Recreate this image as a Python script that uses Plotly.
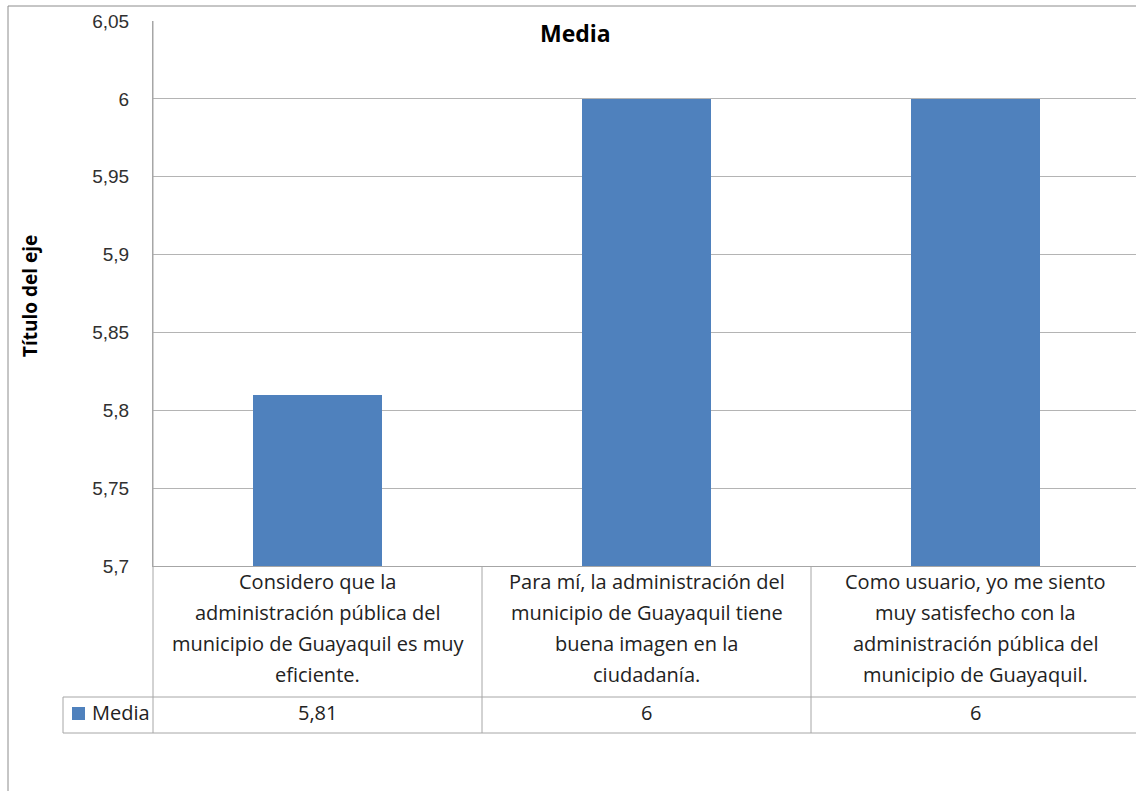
import plotly.graph_objects as go

# Survey items (category labels, wrapped as they appear in the table cells)
categories = [
    ["Considero que la", "administración pública del",
     "municipio de Guayaquil es muy", "eficiente."],
    ["Para mí, la administración del", "municipio de Guayaquil tiene",
     "buena imagen en la", "ciudadanía."],
    ["Como usuario, yo me siento", "muy satisfecho con la",
     "administración pública del", "municipio de Guayaquil."],
]
series_name = "Media"
values = [5.81, 6, 6]
value_labels = ["5,81", "6", "6"]
tick_vals = [5.7, 5.75, 5.8, 5.85, 5.9, 5.95, 6.0, 6.05]
tick_text = ["5,7", "5,75", "5,8", "5,85", "5,9", "5,95", "6", "6,05"]

BAR_COLOR = "#4F81BD"
GRID = "#b4b4b4"
TABLE_LINE = "#a6a6a6"
TEXT = "#222222"
BODY_FONT = "Open Sans"
TICK_FONT = "Liberation Sans"

W, H = 1136, 791
PL, PR, PT, PB = 153, 1136, 21, 566     # plot area in pixels
X_RANGE = [-0.5, -0.5 + (PR - PL) / 329.0]


def px_x(px):
    return (px - PL) / (PR - PL)


def px_y(py):
    return (PB - py) / (PB - PT)


def cat_x(c):
    return (c - X_RANGE[0]) / (X_RANGE[1] - X_RANGE[0])


idx = list(range(len(categories)))

fig = go.Figure()
fig.add_trace(go.Bar(
    x=idx, y=values, name=series_name, width=0.395,
    marker=dict(color=BAR_COLOR, line=dict(width=0)),
    showlegend=False, hoverinfo="skip",
))

shapes = []


def line(x0, y0, x1, y1, color=TABLE_LINE, w=1):
    shapes.append(dict(type="line", xref="paper", yref="paper",
                       x0=x0, y0=y0, x1=x1, y1=y1,
                       line=dict(color=color, width=w), layer="above"))


# outer chart border (left and top)
line(px_x(8), px_y(6), px_x(8), px_y(800), color="#8c8c8c")
line(px_x(8), px_y(6), px_x(1140), px_y(6), color="#8c8c8c")

# data table grid
row1, row2 = 697, 733
line(px_x(PL), px_y(PT), px_x(PL), px_y(row2))
line(px_x(63), px_y(row1), px_x(1140), px_y(row1))
line(px_x(63), px_y(row2), px_x(1140), px_y(row2))
line(px_x(63), px_y(row1), px_x(63), px_y(row2))
for b in [0.5, 1.5]:
    line(cat_x(b), px_y(PB), cat_x(b), px_y(row2))

# legend key
shapes.append(dict(type="rect", xref="paper", yref="paper",
                   x0=px_x(72), x1=px_x(85), y0=px_y(720), y1=px_y(707),
                   fillcolor=BAR_COLOR, line=dict(width=0)))

annotations = []
LINE_STEP = 31.3
first_line = 581
cell_font = dict(family=BODY_FONT, size=20, color=TEXT)
for i, (cat, lab) in enumerate(zip(categories, value_labels)):
    for k, txt in enumerate(cat):
        annotations.append(dict(
            x=cat_x(i), y=px_y(first_line + k * LINE_STEP),
            xref="paper", yref="paper", text=txt, showarrow=False,
            xanchor="center", yanchor="middle", font=cell_font))
    annotations.append(dict(
        x=cat_x(i), y=px_y(712), xref="paper", yref="paper",
        text=lab, showarrow=False, xanchor="center", yanchor="middle",
        font=cell_font))

annotations.append(dict(
    x=px_x(90), y=px_y(712), xref="paper", yref="paper",
    text=series_name, showarrow=False, xanchor="left", yanchor="middle",
    font=cell_font))

# chart title
annotations.append(dict(
    x=px_x(575), y=px_y(33), xref="paper", yref="paper",
    text="<b>Media</b>", showarrow=False, xanchor="center", yanchor="middle",
    font=dict(family=BODY_FONT, size=23, color="#000000")))

# axis title
annotations.append(dict(
    x=px_x(30), y=px_y(296), xref="paper", yref="paper",
    text="<b>Título del eje</b>", showarrow=False, textangle=-90,
    xanchor="center", yanchor="middle",
    font=dict(family=BODY_FONT, size=19, color="#000000")))

fig.update_layout(
    width=W, height=H, autosize=False,
    margin=dict(l=PL, r=W - PR, t=PT, b=H - PB, pad=0),
    paper_bgcolor="white", plot_bgcolor="white",
    bargap=0,
    xaxis=dict(range=X_RANGE, showticklabels=False, showgrid=False,
               zeroline=False, showline=True, linecolor=TABLE_LINE,
               linewidth=1, ticks=""),
    yaxis=dict(range=[5.7, 6.05], tickvals=tick_vals, ticktext=tick_text,
               showgrid=True, gridcolor=GRID, gridwidth=1, zeroline=False,
               showline=True, linecolor=TABLE_LINE, linewidth=1, ticks="",
               ticklabelstandoff=19,
               tickfont=dict(family=TICK_FONT, size=19, color="#303030")),
    shapes=shapes,
    annotations=annotations,
    showlegend=False,
)

fig.write_html("out.html")
